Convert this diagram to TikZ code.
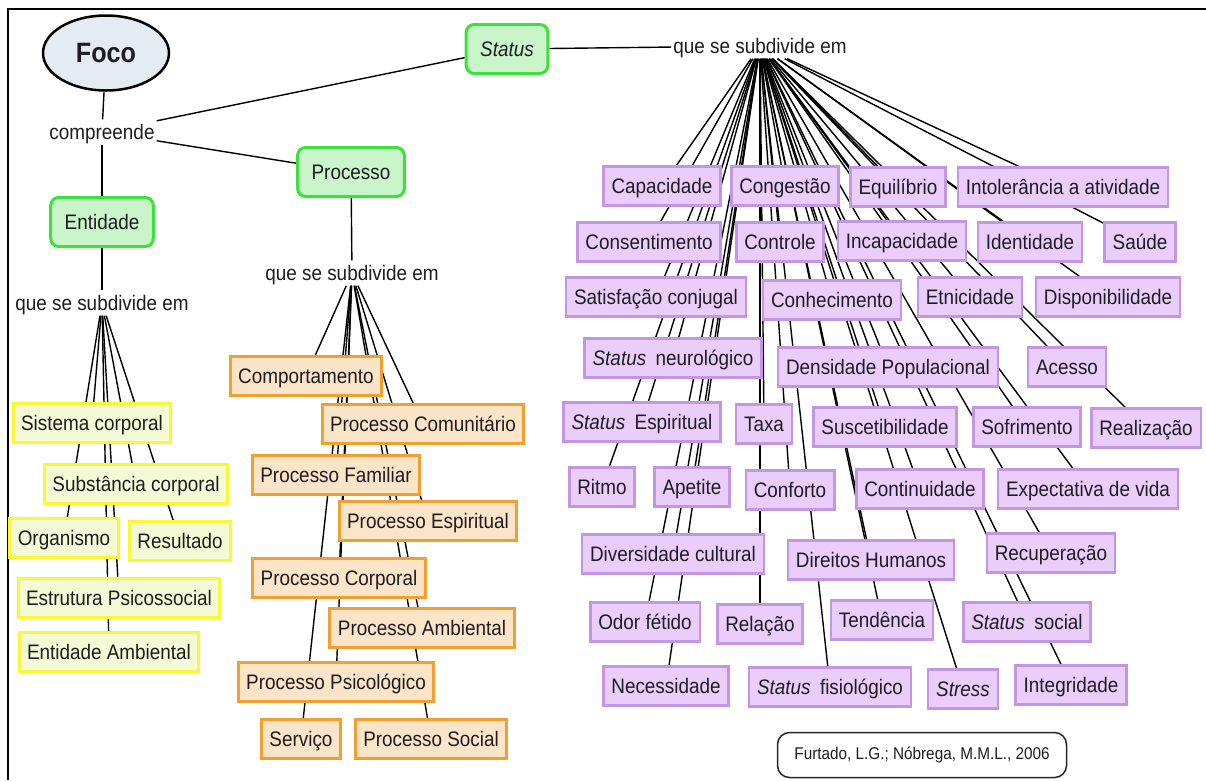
\documentclass[tikz,border=0pt]{standalone}
\usepackage{fontspec}
\setmainfont{Liberation Sans}[FakeStretch=0.9]
\usetikzlibrary{shapes.geometric,backgrounds}

\definecolor{txt}{RGB}{30,28,32}
\definecolor{purpF}{RGB}{234,205,250}
\definecolor{purpD}{RGB}{194,150,226}
\definecolor{orgF}{RGB}{252,228,200}
\definecolor{orgD}{RGB}{240,160,48}
\definecolor{yelF}{RGB}{245,250,214}
\definecolor{yelD}{RGB}{250,248,50}
\definecolor{grnF}{RGB}{202,245,202}
\definecolor{grnD}{RGB}{60,225,60}
\definecolor{focoF}{RGB}{228,236,242}

\tikzset{
  base/.style={font=\fontsize{21}{25}\selectfont, text=txt, inner xsep=8pt,
    inner ysep=0pt, text height=18pt, text depth=3pt, minimum height=39pt},
  purp/.style={base, draw=purpD, fill=purpF, line width=2.5pt},
  orng/.style={base, draw=orgD, fill=orgF, line width=3pt},
  yelw/.style={base, draw=yelD, fill=yelF, line width=3pt},
  grn/.style={base, draw=grnD, fill=grnF, line width=3pt, rounded corners=8pt,
    inner xsep=14pt, minimum height=49pt},
  lbl/.style={font=\fontsize{21}{25}\selectfont, text=txt, inner sep=2pt,
    text height=18pt, text depth=3pt},
  wire/.style={draw=black, line width=1.4pt},
}

\begin{document}
\begin{tikzpicture}[x=1pt, y=-1pt]
\useasboundingbox (0,0) rectangle (1206,780);

% top level
\node[ellipse, draw=black, line width=2.5pt, fill=focoF, minimum width=126pt,
  minimum height=75pt, inner sep=0pt, text=txt,
  font=\fontsize{28}{32}\selectfont\bfseries] (foco) at (106,53) {Foco};
\node[lbl] (comp) at (102,132) {compreende};
\node[grn] (st) at (507,49) {\itshape Status};
\node[grn] (proc) at (351,172) {Processo};
\node[grn] (ent) at (102,222) {Entidade};
\node[lbl] (tq) at (760,46) {que se subdivide em};
\node[lbl] (lq) at (102,303) {que se subdivide em};
\node[lbl] (pq) at (352,273) {que se subdivide em};

% Entidade branch
\node[yelw] (sis) at (92,423) {Sistema corporal};
\node[yelw] (subs) at (136,484) {Substância corporal};
\node[yelw] (org) at (64,538) {Organismo};
\node[yelw] (res) at (180,541) {Resultado};
\node[yelw] (estr) at (119,598) {Estrutura Psicossocial};
\node[yelw] (eamb) at (109,652) {Entidade Ambiental};

% Processo branch
\node[orng] (comp1) at (306,376) {Comportamento};
\node[orng] (pcom) at (423,424) {Processo Comunitário};
\node[orng] (pfam) at (336,475) {Processo Familiar};
\node[orng] (pesp) at (428,521) {Processo Espiritual};
\node[orng] (pcor) at (339,578) {Processo Corporal};
\node[orng] (pamb) at (422,628) {Processo Ambiental};
\node[orng] (ppsi) at (336,682) {Processo Psicológico};
\node[orng] (serv) at (301,739) {Serviço};
\node[orng] (psoc) at (431,739) {Processo Social};

% Status branch
\node[purp] (cap) at (662,186) {Capacidade};
\node[purp] (cong) at (785,186) {Congestão};
\node[purp] (equi) at (898,187) {Equilíbrio};
\node[purp] (into) at (1063,187) {Intolerância a atividade};
\node[purp] (cons) at (649,242) {Consentimento};
\node[purp] (ctrl) at (780,242) {Controle};
\node[purp] (incap) at (902,241) {Incapacidade};
\node[purp] (iden) at (1030,242) {Identidade};
\node[purp] (saude) at (1140,242) {Saúde};
\node[purp] (sat) at (656,297) {Satisfação conjugal};
\node[purp] (conh) at (832,300) {Conhecimento};
\node[purp] (etn) at (970,297) {Etnicidade};
\node[purp] (disp) at (1108,297) {Disponibilidade};
\node[purp] (neuro) at (673,358) {\textit{Status}\hspace{0.45em}neurológico};
\node[purp] (dens) at (888,367) {Densidade Populacional};
\node[purp] (aces) at (1067,367) {Acesso};
\node[purp] (espi) at (642,422) {\textit{Status}\hspace{0.45em}Espiritual};
\node[purp] (taxa) at (764,424) {Taxa};
\node[purp] (susc) at (885,427) {Suscetibilidade};
\node[purp] (sofr) at (1027,427) {Sofrimento};
\node[purp] (real) at (1146,428) {Realização};
\node[purp] (ritmo) at (602,487) {Ritmo};
\node[purp] (apet) at (692,487) {Apetite};
\node[purp] (conf) at (790,490) {Conforto};
\node[purp] (cont) at (920,489) {Continuidade};
\node[purp] (expe) at (1088,489) {Expectativa de vida};
\node[purp] (div) at (673,554) {Diversidade cultural};
\node[purp] (dir) at (871,560) {Direitos Humanos};
\node[purp] (recu) at (1051,553) {Recuperação};
\node[purp] (odor) at (645,622) {Odor fétido};
\node[purp] (rel) at (760,624) {Relação};
\node[purp] (tend) at (882,620) {Tendência};
\node[purp] (ssoc) at (1027,622) {\textit{Status}\hspace{0.45em}social};
\node[purp] (nec) at (666,686) {Necessidade};
\node[purp] (sfis) at (830,687) {\textit{Status}\hspace{0.45em}fisiológico};
\node[purp] (stress) at (963,689) {\textit{Stress}};
\node[purp] (integ) at (1071,685) {Integridade};

% reference box
\node[draw=black!85, line width=1.5pt, rounded corners=12pt, fill=white,
  minimum width=289pt, minimum height=45pt, text=txt,
  font=\fontsize{17}{20}\selectfont] (ref) at (922,755) {Furtado, L.G.; Nóbrega, M.M.L., 2006};

% page, frame and connectors, all drawn behind the concept boxes
\begin{scope}[on background layer]
  \fill[white] (0,0) rectangle (1206,780);
  \draw[line width=2.5pt] (8,780) -- (8,9) -- (1206,9);
  \draw[wire] (foco) -- (comp);
  \draw[wire] (comp) -- (ent);
  \draw[wire] (comp) -- (st);
  \draw[wire] (comp) -- (proc);
  \draw[wire] (st) -- (tq);
  \draw[wire] (ent) -- (lq);
  \draw[wire] (proc) -- (pq);
  \foreach \n in {sis,subs,org,res,estr,eamb}
    \draw[wire] (lq) -- (\n);
  \foreach \n in {comp1,pcom,pfam,pesp,pcor,pamb,ppsi,serv,psoc}
    \draw[wire] (pq) -- (\n);
  \foreach \n in {cap,cong,equi,into,cons,ctrl,incap,iden,saude,sat,conh,etn,disp,
      neuro,dens,aces,espi,taxa,susc,sofr,real,ritmo,apet,conf,cont,expe,
      div,dir,recu,odor,rel,tend,ssoc,nec,sfis,stress,integ}
    \draw[wire] (tq) -- (\n);
\end{scope}
\end{tikzpicture}
\end{document}
